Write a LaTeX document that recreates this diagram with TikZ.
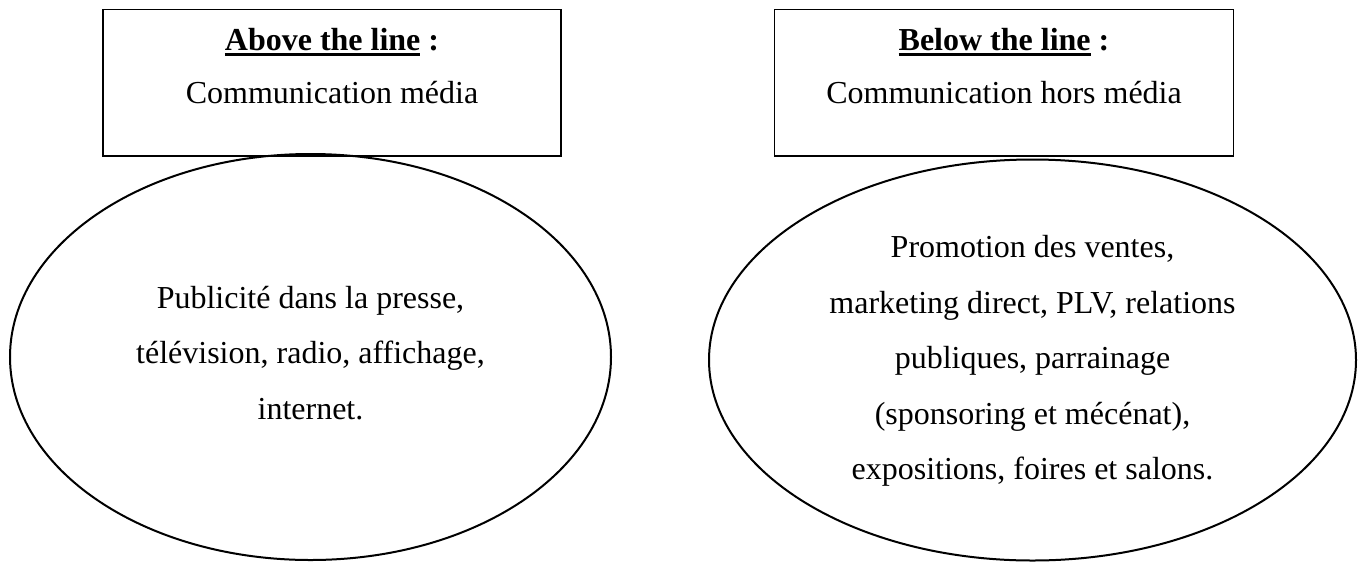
\documentclass[tikz,border=0pt]{standalone}
\usepackage{fontspec}
\setmainfont{Liberation Serif}
\usetikzlibrary{shapes.geometric}
\newcommand\ulbold[1]{\setbox0\hbox{#1}\rlap{\rule[-6pt]{\wd0}{2.6pt}}\box0}
\tikzset{
  boxst/.style={draw=black, line width=1.4pt, rectangle, inner sep=0pt},
  ellst/.style={draw=black, line width=2pt, ellipse, inner sep=0pt},
  txt/.style={inner sep=0pt, align=center, font={\fontsize{32}{55.6}\selectfont}},
  head/.style={inner sep=0pt, anchor=base, font={\fontsize{32}{38}\selectfont}}
}
\begin{document}
\begin{tikzpicture}[x=1pt,y=-1pt]
\useasboundingbox (0,0) rectangle (1362,563);
% boxes
\node[boxst, minimum width=458pt, minimum height=146.3pt] (abl) at (332,82.85) {};
\node[head] (ablt) at (332,50) {\ulbold{\textbf{Above the line}}\textbf{\ :}};
\node[head] (ablc) at (332,103.5) {Communication média};
\node[boxst, minimum width=459pt, minimum height=146.3pt] (btl) at (1004,82.85) {};
\node[head] (btlt) at (1004,50) {\ulbold{\textbf{Below the line}}\textbf{\ :}};
\node[head] (btlc) at (1004,103.5) {Communication hors média};
% ellipses
\node[ellst, minimum width=601pt, minimum height=406pt] (e1) at (310.5,357) {};
\node[txt] (e1t) at (310.5,353) {Publicité dans la presse,\\télévision, radio, affichage,\\internet.};
\node[ellst, minimum width=647pt, minimum height=401pt] (e2) at (1032.5,360) {};
\node[txt] (e2t) at (1032.5,361) {Promotion des ventes,\\marketing direct, PLV, relations\\publiques, parrainage\\(sponsoring et mécénat),\\expositions, foires et salons.};
\end{tikzpicture}
\end{document}
